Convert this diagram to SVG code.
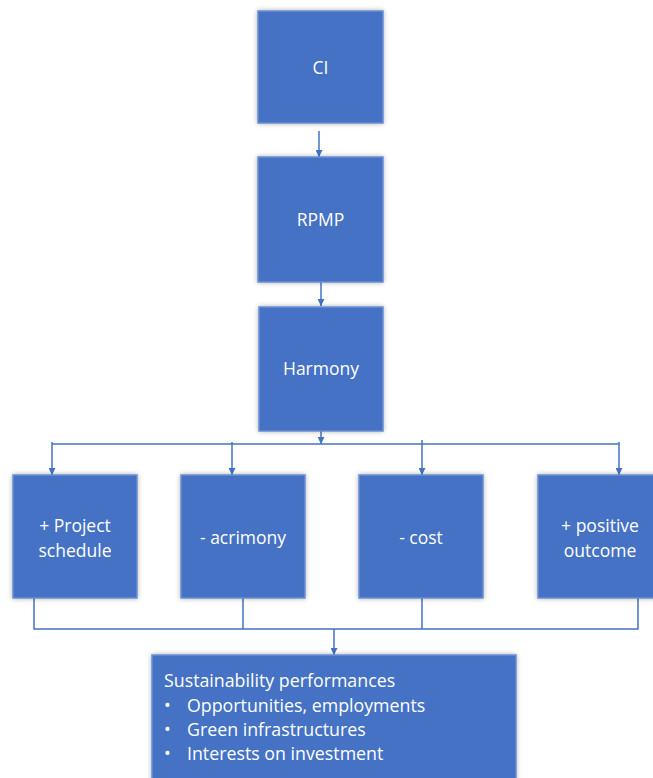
<svg xmlns="http://www.w3.org/2000/svg" width="653" height="778" viewBox="0 0 653 778">
<style>
.box{fill:#4472C4;stroke:#6A8FD2;stroke-width:1.5;filter:url(#sh)}
.t{fill:#FFFFFF;font-family:"Open Sans","Liberation Sans",sans-serif;font-size:17.5px;text-anchor:middle}
.tl{fill:#FFFFFF;font-family:"Open Sans","Liberation Sans",sans-serif;font-size:17.8px}
.c{stroke:#4472C4;stroke-width:1.5;fill:none}
.a{stroke:#4472C4;stroke-width:1.5;fill:none;marker-end:url(#ah)}
</style>
<defs>
<filter id="sh" x="-10%" y="-10%" width="120%" height="120%">
<feDropShadow dx="0" dy="0" stdDeviation="2.5" flood-color="#000" flood-opacity="0.3"/>
</filter>
<marker id="ah" viewBox="0 0 10 10" refX="10" refY="5" markerWidth="7" markerHeight="7" orient="auto" markerUnits="userSpaceOnUse">
<path d="M0,0 L10,5 L0,10 z" fill="#4472C4"/>
</marker>
</defs>
<rect width="653" height="778" fill="#FFFFFF"/>
<g id="connectors">
<line class="a" x1="319" y1="131" x2="319" y2="157"/>
<line class="a" x1="321" y1="282" x2="321" y2="306"/>
<line class="a" x1="321" y1="431" x2="321" y2="444"/>
<line class="c" x1="52" y1="444" x2="619" y2="444"/>
<line class="a" x1="52" y1="442" x2="52" y2="475"/>
<line class="a" x1="232" y1="442" x2="232" y2="475"/>
<line class="a" x1="422" y1="440" x2="422" y2="475"/>
<line class="a" x1="619" y1="442" x2="619" y2="475"/>
<polyline class="c" points="34,598 34,629 638,629 638,598"/>
<line class="c" x1="243" y1="598" x2="243" y2="629"/>
<line class="c" x1="422" y1="598" x2="422" y2="629"/>
<line class="a" x1="334" y1="629" x2="334" y2="655"/>
</g>
<g id="ci"><rect class="box" x="258" y="11" width="125" height="112"/><text class="t" x="320.5" y="74">CI</text></g>
<g id="rpmp"><rect class="box" x="258" y="157" width="125" height="125"/><text class="t" x="320.5" y="226">RPMP</text></g>
<g id="harmony"><rect class="box" x="259" y="307" width="124" height="124"/><text class="t" x="321" y="375">Harmony</text></g>
<g id="schedule"><rect class="box" x="13" y="475" width="124" height="123"/><text class="t" x="75" y="532">+ Project</text><text class="t" x="75" y="557">schedule</text></g>
<g id="acrimony"><rect class="box" x="181" y="475" width="124" height="123"/><text class="t" x="243" y="544">- acrimony</text></g>
<g id="cost"><rect class="box" x="359" y="475" width="124" height="123"/><text class="t" x="421" y="544">- cost</text></g>
<g id="outcome"><rect class="box" x="538" y="475" width="124" height="123"/><text class="t" x="600" y="532">+ positive</text><text class="t" x="600" y="557">outcome</text></g>
<g id="sustainability"><rect class="box" x="152" y="655" width="364" height="130"/>
<text class="tl" x="164" y="687">Sustainability performances</text>
<text class="tl" x="164" y="712" font-size="20px">•</text><text class="tl" x="187" y="712">Opportunities, employments</text>
<text class="tl" x="164" y="736" font-size="20px">•</text><text class="tl" x="187" y="736">Green infrastructures</text>
<text class="tl" x="164" y="760" font-size="20px">•</text><text class="tl" x="187" y="760">Interests on investment</text>
</g>
</svg>
